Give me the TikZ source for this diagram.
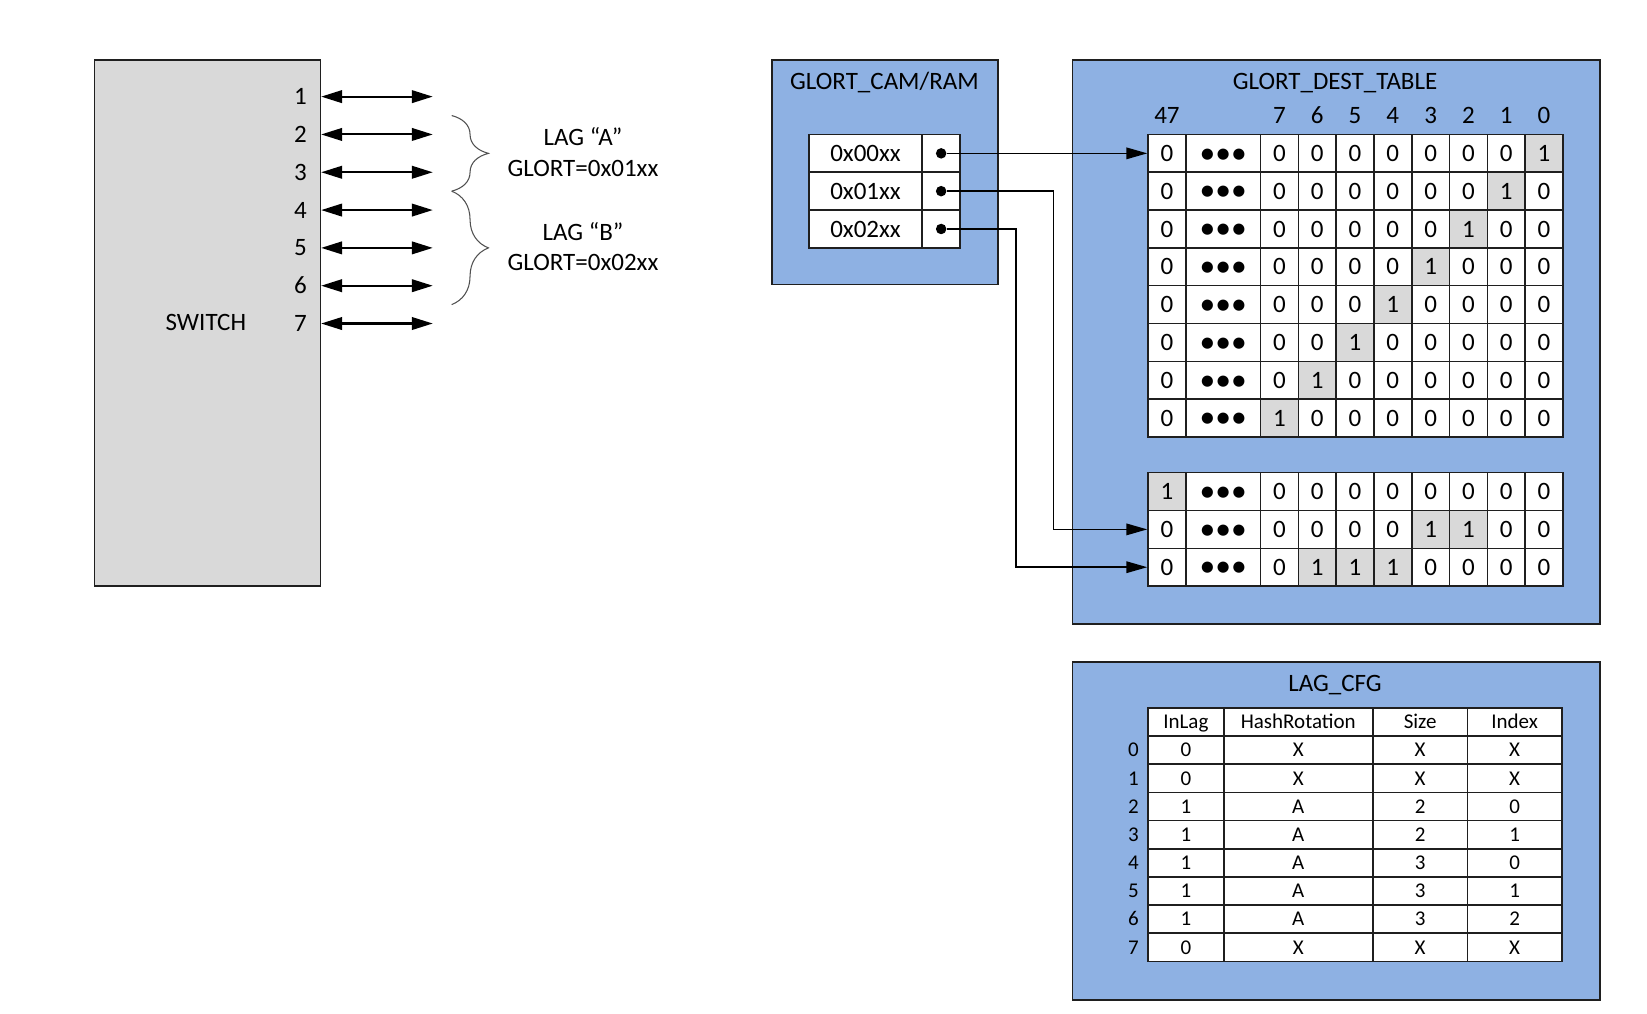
\documentclass[tikz,border=0pt]{standalone}
\usepackage{fontspec}
\setmainfont{Carlito}
\usetikzlibrary{arrows.meta,decorations.pathreplacing}
\definecolor{boxblue}{HTML}{8EB1E3}
\definecolor{cellgray}{HTML}{D9D9D9}
\definecolor{edgec}{HTML}{1F1F1F}
\definecolor{bracec}{HTML}{505050}
\begin{document}
\begin{tikzpicture}[x=1pt,y=1pt,
  bigfont/.style={font=\fontsize{23.8}{28}\selectfont},
  smallfont/.style={font=\fontsize{20}{24}\selectfont},
  lbl/.style={bigfont,inner sep=0pt,text height=15.3pt,text depth=0pt},
  slbl/.style={smallfont,inner sep=0pt,text height=12.9pt,text depth=0pt},
  panel/.style={draw=edgec,line width=1.5pt,fill=boxblue,inner sep=0pt},
  cell/.style={draw=edgec,line width=1.5pt,fill=white,minimum width=36pt,minimum height=36pt,
    inner sep=0pt,bigfont,text height=15.3pt,text depth=0pt},
  onecell/.style={cell,fill=cellgray},
  dotcell/.style={cell,minimum width=71pt,font=\fontsize{30}{30}\selectfont,text height=18.6pt},
  cfgcell/.style={draw=edgec,line width=1.5pt,fill=white,minimum height=26.8pt,inner sep=0pt,
    smallfont,text height=12.9pt,text depth=0pt},
  conn/.style={line width=1.5pt,draw=black,-{Triangle[length=20pt,width=11pt]}},
  dbl/.style={line width=2pt,draw=black,{Triangle[length=20pt,width=12pt]}-{Triangle[length=20pt,width=12pt]}},
  bracestyle/.style={draw=bracec,line width=1pt,decorate,decoration={brace,amplitude=35pt}},
  dotmark/.style={circle,fill=black,inner sep=0pt,minimum size=10pt}
]
\fill[white] (0,0) rectangle (1568,-965);
\useasboundingbox (0,0) rectangle (1568,-965);

% ---------- SWITCH ----------
\node[draw=edgec,line width=1.5pt,fill=cellgray,minimum width=215pt,minimum height=501pt,inner sep=0pt]
  (sw) at (197.5,-307.5) {};
\node[lbl] (swl) at (196,-307) {SWITCH};
\foreach \i in {1,...,7}{
  \pgfmathsetmacro\yy{-92-36*(\i-1)}
  \node[lbl] (pn\i) at (286,\yy) {\i};
  \coordinate (pe\i) at (412,\yy);
  \draw[dbl] (sw.east |- pe\i) -- (pe\i);
}
% braces
\coordinate (ba1) at (430,-110);
\coordinate (ba2) at (430,-182);
\coordinate (bb1) at (430,-182);
\coordinate (bb2) at (430,-290);
\draw[bracestyle] (ba1) -- (ba2);
\draw[bracestyle] (bb1) -- (bb2);
\node[lbl] (lagA) at (555,-131) {LAG “A”};
\node[lbl] (glA) at (555,-160) {GLORT=0x01xx};
\node[lbl] (lagB) at (555,-221) {LAG “B”};
\node[lbl] (glB) at (555,-250) {GLORT=0x02xx};

% ---------- GLORT_CAM/RAM ----------
\node[panel,minimum width=215pt,minimum height=214pt] (cam) at (842.5,-164) {};
\node[lbl] (camt) at (842,-78) {GLORT\_CAM/RAM};
\foreach \i/\t/\n in {0/0x00xx/A,1/0x01xx/B,2/0x02xx/C}{
  \pgfmathsetmacro\yy{-146-36*\i}
  \node[cell,minimum width=108pt] (camL\n) at (824,\yy) {\t};
  \node[cell] (camD\n) at (896,\yy) {};
  \node[dotmark] (d\n) at (896,\yy) {};
}

% ---------- GLORT_DEST_TABLE ----------
\node[panel,minimum width=502pt,minimum height=537pt] (dest) at (1272,-325.5) {};
\node[lbl] (destt) at (1271,-78) {GLORT\_DEST\_TABLE};
\node[lbl] (h47) at (1111,-110) {47};
\foreach \b in {7,...,0}{
  \pgfmathsetmacro\xx{1470-36*\b}
  \node[lbl] (hb\b) at (\xx,-110) {\b};
}
\foreach \r in {0,...,7}{
  \pgfmathsetmacro\yy{-146-36*\r}
  \node[cell] (t\r-47) at (1111,\yy) {0};
  \node[dotcell] (t\r-d) at (1164.5,\yy) {•••};
  \foreach \b in {7,...,0}{
    \pgfmathsetmacro\xx{1470-36*\b}
    \ifnum\b=\r\relax
      \node[onecell] (t\r-\b) at (\xx,\yy) {1};
    \else
      \node[cell] (t\r-\b) at (\xx,\yy) {0};
    \fi
  }
}
\foreach \r/\v in {0/{1,0,0,0,0,0,0,0,0},1/{0,0,0,0,0,1,1,0,0},2/{0,0,1,1,1,0,0,0,0}}{
  \pgfmathsetmacro\yy{-468-36*\r}
  \node[dotcell] (b\r-d) at (1164.5,\yy) {•••};
  \foreach \val [count=\c from 0] in \v {
    \ifnum\c=0 \def\xx{1111}\else\pgfmathsetmacro\xx{1218+36*(\c-1)}\fi
    \ifnum\val=1
      \node[onecell] (b\r-\c) at (\xx,\yy) {1};
    \else
      \node[cell] (b\r-\c) at (\xx,\yy) {0};
    \fi
  }
}

% connectors
\coordinate (bendB) at (1003,-182);
\coordinate (bendC) at (967,-218);
\draw[conn] (dA) -- (t0-47.west);
\draw[conn] (dB) -- (bendB) |- (b1-0.west);
\draw[conn] (dC) -- (bendC) |- (b2-0.west);

% ---------- LAG_CFG ----------
\node[panel,minimum width=502pt,minimum height=322pt] (cfg) at (1272,-791) {};
\node[lbl] (cfgt) at (1271,-651) {LAG\_CFG};
\foreach \x/\w/\t [count=\c] in {1129/72/InLag,1236/142/HashRotation,1352/90/Size,1442/90/Index}
  \node[cfgcell,minimum width=\w pt] (ch\c) at (\x,-687.4) {\t};
\foreach \r/\a/\b/\cc/\d in {0/0/X/X/X,1/0/X/X/X,2/1/A/2/0,3/1/A/2/1,4/1/A/3/0,5/1/A/3/1,6/1/A/3/2,7/0/X/X/X}{
  \pgfmathsetmacro\yy{-714.2-26.8*\r}
  \node[slbl] (rl\r) at (1079,\yy) {\r};
  \node[cfgcell,minimum width=72pt] (c\r-1) at (1129,\yy) {\a};
  \node[cfgcell,minimum width=142pt] (c\r-2) at (1236,\yy) {\b};
  \node[cfgcell,minimum width=90pt] (c\r-3) at (1352,\yy) {\cc};
  \node[cfgcell,minimum width=90pt] (c\r-4) at (1442,\yy) {\d};
}
\end{tikzpicture}
\end{document}
